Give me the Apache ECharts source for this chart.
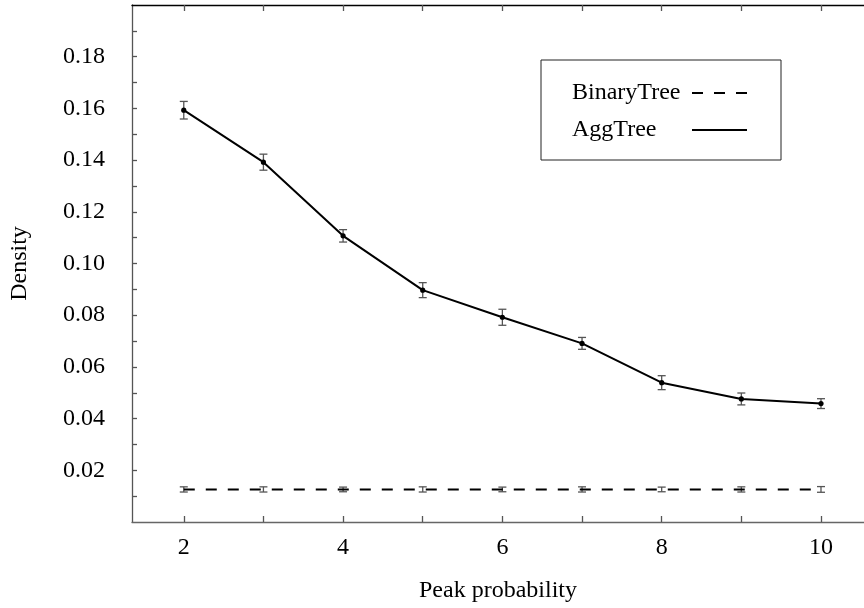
<!DOCTYPE html>
<html>
<head>
<meta charset="utf-8">
<script src="https://cdn.jsdelivr.net/npm/echarts@6/dist/echarts.min.js"></script>
<style>html,body{margin:0;padding:0;background:#fff;}#c{width:864px;height:608px;}</style>
</head>
<body>
<div id="c"></div>
<script>
var xValues = [2, 3, 4, 5, 6, 7, 8, 9, 10];
var binaryTree = [0.0126, 0.0126, 0.0126, 0.0126, 0.0126, 0.0126, 0.0126, 0.0126, 0.0126];
var binaryErr = [0.0010, 0.0010, 0.0009, 0.0010, 0.0009, 0.0010, 0.0009, 0.0010, 0.0011];
var aggTree = [0.1593, 0.1392, 0.1107, 0.0897, 0.0792, 0.0691, 0.0539, 0.0476, 0.0458];
var aggErr = [0.0034, 0.0031, 0.0024, 0.0029, 0.0031, 0.0023, 0.0027, 0.0023, 0.0019];
var xTicks = [2, 3, 4, 5, 6, 7, 8, 9, 10];
var xTickLabels = [2, 4, 6, 8, 10];
var yTicks = [0.01, 0.02, 0.03, 0.04, 0.05, 0.06, 0.07, 0.08, 0.09, 0.10, 0.11, 0.12, 0.13, 0.14, 0.15, 0.16, 0.17, 0.18, 0.19];
var yTickLabels = [0.02, 0.04, 0.06, 0.08, 0.10, 0.12, 0.14, 0.16, 0.18];

var FONT = 'Liberation Serif';

function pairs(vals) { return xValues.map(function (x, i) { return [x, vals[i]]; }); }
function errData(vals, errs) {
  return xValues.map(function (x, i) { return [x, vals[i] - errs[i], vals[i] + errs[i], vals[i]]; });
}
function errRender(withDot) {
  return function (params, api) {
    var x = api.value(0);
    var lo = api.coord([x, api.value(1)]);
    var hi = api.coord([x, api.value(2)]);
    var mid = api.coord([x, api.value(3)]);
    var hw = 4;
    var st = { stroke: '#555', lineWidth: 1.3 };
    var children = [
      { type: 'line', shape: { x1: lo[0], y1: lo[1], x2: hi[0], y2: hi[1] }, style: st },
      { type: 'line', shape: { x1: lo[0] - hw, y1: lo[1], x2: lo[0] + hw, y2: lo[1] }, style: st },
      { type: 'line', shape: { x1: hi[0] - hw, y1: hi[1], x2: hi[0] + hw, y2: hi[1] }, style: st }
    ];
    if (withDot) {
      children.push({ type: 'circle', shape: { cx: mid[0], cy: mid[1], r: 2.6 }, style: { fill: '#000' } });
    }
    return { type: 'group', children: children };
  };
}

var chart = echarts.init(document.getElementById('c'));
chart.setOption({
  animation: false,
  backgroundColor: '#fff',
  textStyle: { fontFamily: FONT },
  grid: { left: 130, right: 0, top: 5, bottom: 85 },
  legend: {
    data: [
      { name: 'BinaryTree', lineStyle: { type: [11, 11], width: 2, color: '#000' } },
      { name: 'AggTree', lineStyle: { width: 2, color: '#000' } }
    ],
    orient: 'vertical',
    left: 541,
    top: 60,
    align: 'right',
    padding: [21, 33, 18, 31],
    borderColor: '#222',
    borderWidth: 1,
    itemWidth: 55,
    itemHeight: 14,
    itemGap: 13,
    itemStyle: { opacity: 0, color: 'transparent', borderWidth: 0 },
    formatter: '{a|{name}}',
    textStyle: {
      fontFamily: FONT, fontSize: 24, color: '#000', lineHeight: 24,
      rich: { a: { fontFamily: FONT, fontSize: 24, color: '#000', width: 115, align: 'left', lineHeight: 24 } }
    }
  },
  xAxis: [{
    type: 'value',
    min: 1.35,
    max: 10.54,
    name: 'Peak probability',
    nameLocation: 'middle',
    nameGap: 57,
    nameTextStyle: { fontFamily: FONT, fontSize: 24, color: '#000' },
    axisLine: { show: true, lineStyle: { color: '#666', width: 1.3 } },
    axisTick: { show: true, inside: true, length: 6, customValues: xTicks, lineStyle: { color: '#555', width: 1.3 } },
    axisLabel: { customValues: xTickLabels, fontFamily: FONT, fontSize: 24, color: '#000', margin: 14 },
    splitLine: { show: false }
  }, {
    type: 'value',
    position: 'top',
    min: 1.35,
    max: 10.54,
    axisLine: { show: true, lineStyle: { color: '#000', width: 1.3 } },
    axisTick: { show: true, inside: true, length: 6, customValues: xTicks, lineStyle: { color: '#555', width: 1.3 } },
    axisLabel: { show: false },
    splitLine: { show: false }
  }],
  yAxis: {
    type: 'value',
    min: 0,
    max: 0.2,
    name: 'Density',
    nameLocation: 'middle',
    nameGap: 100,
    nameRotate: 90,
    nameTextStyle: { fontFamily: FONT, fontSize: 24, color: '#000' },
    axisLine: { show: true, lineStyle: { color: '#555', width: 1.3 } },
    axisTick: { show: true, inside: true, length: 5, customValues: yTicks, lineStyle: { color: '#555', width: 1.3 } },
    axisLabel: {
      customValues: yTickLabels, fontFamily: FONT, fontSize: 24, color: '#000', margin: 27,
      formatter: function (v) { return v.toFixed(2); }
    },
    splitLine: { show: false }
  },
  series: [{
    name: 'BinaryTree',
    type: 'line',
    data: pairs(binaryTree),
    symbol: 'none',
    lineStyle: { color: '#000', width: 2, type: [11, 11] },
    itemStyle: { color: '#000' }
  }, {
    name: 'AggTree',
    type: 'line',
    data: pairs(aggTree),
    symbol: 'none',
    lineStyle: { color: '#000', width: 2 },
    itemStyle: { color: '#000' }
  }, {
    name: 'BinaryTreeErr',
    type: 'custom',
    data: errData(binaryTree, binaryErr),
    renderItem: errRender(false),
    z: 3
  }, {
    name: 'AggTreeErr',
    type: 'custom',
    data: errData(aggTree, aggErr),
    renderItem: errRender(true),
    z: 3
  }]
});
</script>
</body>
</html>
